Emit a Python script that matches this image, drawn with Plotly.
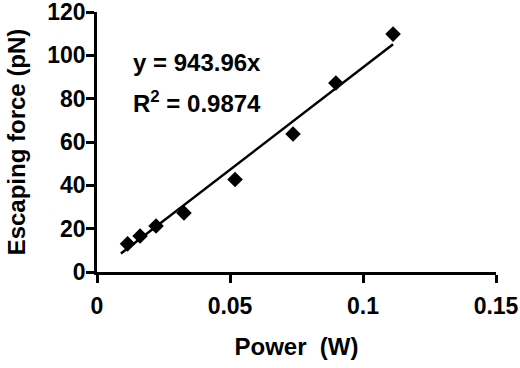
import plotly.graph_objects as go

# Data
power_w = [0.0115, 0.0162, 0.0222, 0.0327, 0.0519, 0.0737, 0.0898, 0.1113]
force_pn = [13.0, 16.6, 21.2, 27.2, 42.7, 63.7, 87.2, 109.8]

slope = 943.96
r_squared = 0.9874
fit_x = [0.009, 0.1113]
fit_y = [slope * x for x in fit_x]

x_ticks = [0, 0.05, 0.1, 0.15]
x_tick_labels = ["0", "0.05", "0.1", "0.15"]
y_ticks = [0, 20, 40, 60, 80, 100, 120]

FONT = "Liberation Sans, Arial, sans-serif"

fig = go.Figure()
fig.add_trace(go.Scatter(
    x=fit_x, y=fit_y, mode="lines",
    line=dict(color="black", width=2.5), showlegend=False, hoverinfo="skip"))
fig.add_trace(go.Scatter(
    x=power_w, y=force_pn, mode="markers",
    marker=dict(symbol="diamond", size=12, color="black"), showlegend=False))

fig.add_annotation(x=0.0128, y=96.6, xref="x", yref="y", xanchor="left", yanchor="middle",
                   text=f"y = {slope}x", showarrow=False,
                   font=dict(family=FONT, size=24, color="black", weight="bold"))
fig.add_annotation(x=0.0128, y=78.5, xref="x", yref="y", xanchor="left", yanchor="middle",
                   text=f"R<sup>2</sup> = {r_squared}", showarrow=False,
                   font=dict(family=FONT, size=24, color="black", weight="bold"))

axis_common = dict(
    showline=True, linecolor="black", linewidth=2.5,
    ticks="outside", ticklen=8, tickwidth=2.5, tickcolor="black",
    showgrid=False, zeroline=False, automargin=False,
    ticklabeloverflow="allow",
    tickfont=dict(family=FONT, size=23, color="black", weight="bold"),
)

fig.update_layout(
    width=520, height=368,
    margin=dict(l=97, r=24, t=12, b=96),
    paper_bgcolor="white", plot_bgcolor="white",
    xaxis=dict(range=[0, 0.15], tickvals=x_ticks, ticktext=x_tick_labels,
               title=dict(text="Power  (W)", standoff=20,
                          font=dict(family=FONT, size=24, color="black", weight="bold")),
               ticklabelstandoff=4,
               **axis_common),
    yaxis=dict(range=[0, 120], tickvals=y_ticks,
               title=dict(text="Escaping force (pN)", standoff=15,
                          font=dict(family=FONT, size=24, color="black", weight="bold")),
               ticklabelstandoff=-4,
               **axis_common),
)

fig.write_html("out.html", config={"displayModeBar": False},
               post_script="document.body.style.margin='0';")
